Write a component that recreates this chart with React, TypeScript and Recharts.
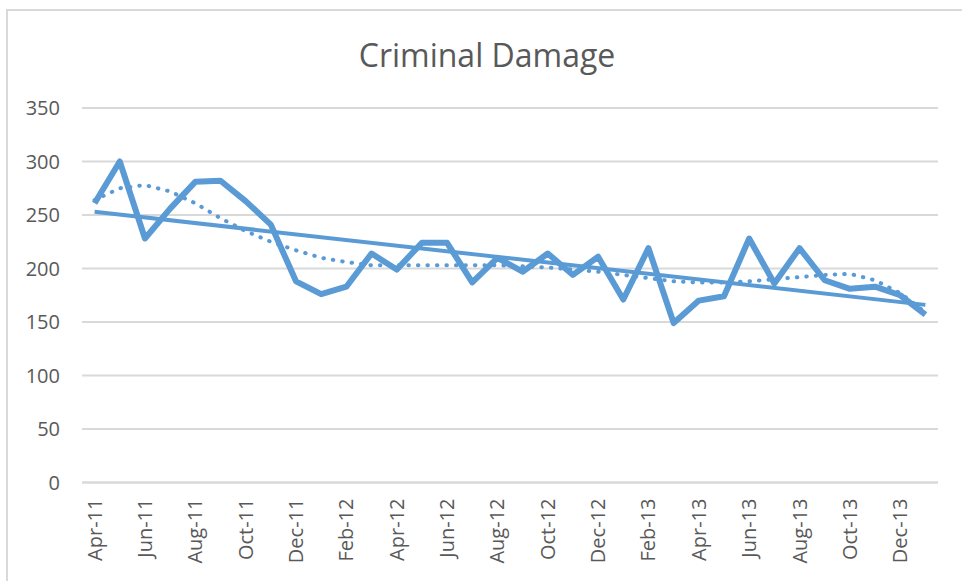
import React from 'react';
import { LineChart, Line, XAxis, YAxis, CartesianGrid } from 'recharts';

const months = [
  'Apr-11', 'May-11', 'Jun-11', 'Jul-11', 'Aug-11', 'Sep-11', 'Oct-11', 'Nov-11', 'Dec-11',
  'Jan-12', 'Feb-12', 'Mar-12', 'Apr-12', 'May-12', 'Jun-12', 'Jul-12', 'Aug-12', 'Sep-12',
  'Oct-12', 'Nov-12', 'Dec-12', 'Jan-13', 'Feb-13', 'Mar-13', 'Apr-13', 'May-13', 'Jun-13',
  'Jul-13', 'Aug-13', 'Sep-13', 'Oct-13', 'Nov-13', 'Dec-13', 'Jan-14',
];

const damage = [
  261, 300, 228, 256, 281, 282, 263, 241, 188,
  176, 183, 214, 199, 224, 224, 187, 210, 197,
  214, 194, 211, 171, 219, 149, 170, 174, 228,
  186, 219, 189, 181, 183, 175, 157,
];

// polynomial trend
const polyTrend = [
  264, 275, 278, 272, 261, 247, 235, 225, 217,
  210, 206, 203, 203, 203, 203, 203, 203, 202,
  201, 199, 197, 194, 191, 188, 187, 187, 188,
  190, 192, 194, 195, 189, 177, 159,
];

// linear trend: only the two end values, joined straight
const linearStart = 253;
const linearEnd = 166;

const yTicks = [0, 50, 100, 150, 200, 250, 300, 350];

const data = months.map((m, i) => ({
  month: m,
  damage: damage[i],
  poly: polyTrend[i],
  linear: i === 0 ? linearStart : i === months.length - 1 ? linearEnd : null,
}));

const FONT = '"Open Sans", "Liberation Sans", sans-serif';
const BLUE = '#5B9BD5';
const GREY = '#595959';

function MonthTick(props: any) {
  const { x, y, payload } = props;
  return (
    <text
      transform={`translate(${x},${y}) rotate(-90)`}
      textAnchor="end"
      dy="0.35em"
      fill={GREY}
      fontSize={20}
      fontFamily={FONT}
    >
      {payload.value}
    </text>
  );
}

export default function App() {
  return (
    <div style={{ position: 'absolute', left: 0, top: 0, width: 962, height: 581, background: '#fff' }}>
      <div
        style={{
          position: 'absolute',
          left: 6,
          top: 9,
          width: 962,
          height: 581,
          borderTop: '2px solid #D9D9D9',
          borderLeft: '2px solid #D9D9D9',
        }}
      />
      <div
        style={{
          position: 'absolute',
          left: 0,
          top: 33,
          width: 974,
          textAlign: 'center',
          fontFamily: FONT,
          fontSize: 32,
          color: GREY,
        }}
      >
        Criminal Damage
      </div>
      <div style={{ position: 'absolute', left: 0, top: 0 }}>
        <LineChart
          width={962}
          height={581}
          data={data}
          margin={{ top: 108, right: 24, left: 0, bottom: 0 }}
        >
          <CartesianGrid vertical={false} stroke="#D9D9D9" strokeWidth={2} />
          <XAxis
            dataKey="month"
            interval={1}
            axisLine={{ stroke: '#D9D9D9', strokeWidth: 2 }}
            tickLine={false}
            tickMargin={10}
            height={98.5}
            padding={{ left: 12.6, right: 12.6 }}
            tick={<MonthTick />}
          />
          <YAxis
            domain={[0, 350]}
            ticks={yTicks}
            width={82}
            axisLine={false}
            tickLine={false}
            tickMargin={16}
            tick={{ fill: GREY, fontSize: 20, fontFamily: FONT }}
          />
          <Line
            dataKey="poly"
            stroke={BLUE}
            strokeWidth={4}
            strokeDasharray="0.5 9"
            strokeLinecap="round"
            dot={false}
            isAnimationActive={false}
          />
          <Line
            dataKey="linear"
            stroke={BLUE}
            strokeWidth={4}
            connectNulls
            dot={false}
            isAnimationActive={false}
          />
          <Line
            dataKey="damage"
            stroke={BLUE}
            strokeWidth={6}
            strokeLinejoin="round"
            dot={false}
            isAnimationActive={false}
          />
        </LineChart>
      </div>
    </div>
  );
}
